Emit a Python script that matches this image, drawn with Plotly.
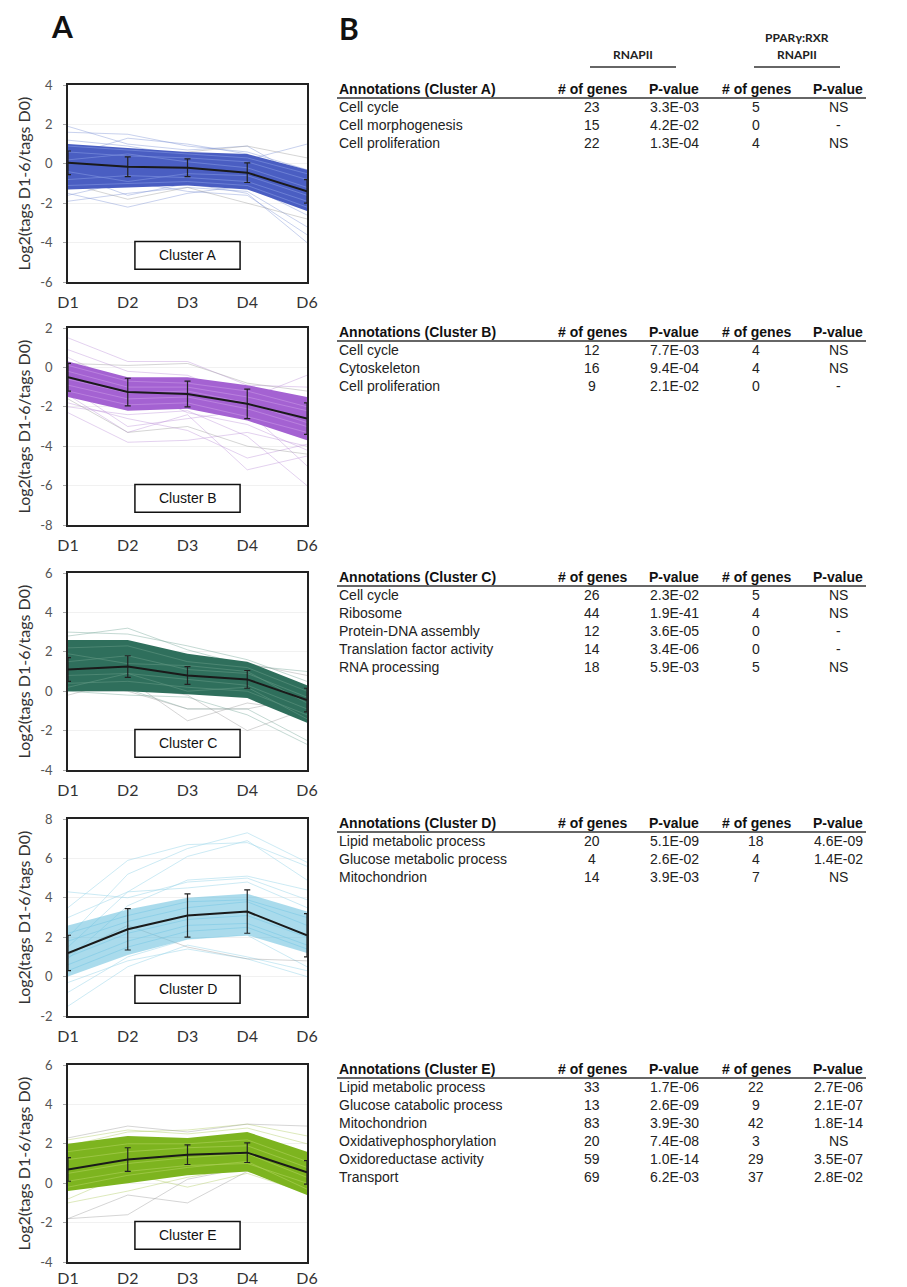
import plotly.graph_objects as go

# page is 907x1287; the html body has an 8px margin, so the figure is placed at (8, 8)
OFF = 8
FW, FH = 899, 1279

# ---------------- data ----------------
days = ["D1", "D2", "D3", "D4", "D6"]
xpos = [0, 1, 2, 3, 4]
cluster_names = ["Cluster A", "Cluster B", "Cluster C", "Cluster D", "Cluster E"]
y_min = [-6, -8, -4, -2, -4]
y_max = [4, 2, 6, 8, 6]

# Cluster A
mean_A = [0.05, -0.15, -0.2, -0.45, -1.4]
err_A = [0.6, 0.5, 0.45, 0.5, 0.6]
band_lo_A = [-1.3, -1.2, -1.1, -1.3, -2.4]
band_hi_A = [1.0, 0.8, 0.6, 0.5, -0.3]
inner_A = [[0.6, 0.4, 0.3, 0.1, -0.8], [-0.8, -0.6, -0.7, -0.9, -1.9], [0.2, 0.5, 0.1, -0.2, -1.2],
           [-0.4, -0.9, -0.5, -0.6, -1.6], [0.9, 0.7, 0.5, 0.3, -0.5], [-1.1, -1.0, -0.9, -1.1, -2.2]]
outer_A = [[1.9, 1.0, 0.7, 0.9, -0.8], [1.6, 1.5, 0.9, 0.6, -0.3], [-1.9, -1.5, -1.2, -1.4, -3.2],
           [-1.5, -2.2, -1.5, -1.1, -2.6], [1.2, 0.9, 0.4, 0.2, 1.0], [-0.5, -1.6, -1.0, -1.5, -4.0],
           [0.4, 1.3, 1.0, 0.5, -2.0], [-1.6, -0.9, -1.4, -1.6, -3.6]]
gray_A = [[0.8, 0.3, 0.6, 0.9, 0.3], [-1.0, -1.8, -1.2, -2.0, -2.8]]

# Cluster B
mean_B = [-0.5, -1.25, -1.35, -1.85, -2.6]
err_B = [0.7, 0.7, 0.65, 0.75, 0.8]
band_lo_B = [-1.5, -2.2, -2.1, -2.7, -3.7]
band_hi_B = [0.3, -0.5, -0.5, -0.9, -1.5]
inner_B = [[-0.2, -1.0, -1.0, -1.5, -2.2], [-1.2, -1.9, -1.8, -2.5, -3.3], [0.1, -0.7, -0.8, -1.2, -2.0],
           [-0.9, -1.6, -1.5, -2.1, -3.0], [-0.6, -1.3, -1.2, -1.8, -2.8]]
outer_B = [[1.5, 0.3, 0.3, -0.9, -1.0], [0.9, -0.2, -0.4, -1.6, -0.4], [-2.3, -3.8, -3.7, -3.3, -4.0],
           [-1.8, -2.6, -3.2, -4.6, -3.9], [-1.4, -3.3, -2.4, -5.2, -4.5], [-2.0, -2.4, -2.2, -3.5, -6.0],
           [0.5, -0.9, -2.3, -2.9, -4.2], [-1.0, -3.0, -2.6, -2.2, -5.0]]
gray_B = [[0.2, 0.1, 0.2, -0.8, -1.2], [-1.6, -3.3, -3.0, -4.0, -4.4]]

# Cluster C
mean_C = [1.1, 1.25, 0.8, 0.6, -0.45]
err_C = [0.6, 0.55, 0.45, 0.45, 0.6]
band_lo_C = [0.0, 0.0, -0.15, -0.35, -1.6]
band_hi_C = [2.6, 2.6, 1.9, 1.5, 0.3]
inner_C = [[2.2, 2.3, 1.5, 1.2, 0.0], [0.4, 0.5, 0.2, 0.0, -1.2], [1.5, 1.8, 1.1, 0.9, -0.3],
           [0.8, 0.9, 0.6, 0.3, -0.9], [1.9, 1.4, 1.3, 1.0, -0.6], [0.2, 0.9, 0.0, 0.2, -1.4]]
outer_C = [[3.0, 2.9, 2.3, 1.6, 0.5], [2.8, 3.2, 2.1, 1.3, 1.0], [0.0, -0.2, -0.3, -1.2, -2.7],
           [1.0, 0.1, -0.9, -0.9, -2.5]]
gray_C = [[0.5, 0.0, -0.9, -0.9, -0.3], [-0.2, 0.6, -1.5, -0.6, -1.0], [0.6, 0.3, -0.2, -2.0, -0.9],
          [2.4, 2.2, 1.0, 1.4, 0.8]]

# Cluster D
mean_D = [1.2, 2.4, 3.1, 3.3, 2.1]
err_D = [0.9, 1.05, 1.1, 1.1, 1.1]
band_lo_D = [0.0, 1.1, 1.9, 2.1, 1.2]
band_hi_D = [2.6, 3.4, 4.0, 4.2, 3.3]
inner_D = [[1.8, 2.8, 3.5, 3.8, 2.6], [0.6, 1.8, 2.6, 2.7, 1.6], [2.2, 3.1, 3.8, 3.9, 3.0],
           [1.0, 2.2, 2.9, 3.1, 2.0], [0.3, 1.5, 2.3, 2.5, 1.4]]
outer_D = [[4.3, 4.0, 4.8, 5.0, 3.9], [3.5, 5.9, 6.7, 6.8, 5.6], [2.0, 5.2, 6.5, 7.3, 5.8],
           [1.5, 4.3, 6.1, 6.9, 4.9], [-1.5, 0.5, 1.6, 1.0, 0.3], [-0.8, 1.0, 1.9, 2.1, 0.5],
           [0.9, 3.6, 4.9, 5.1, 4.4], [3.0, 4.3, 4.5, 4.8, 3.5], [-0.3, 0.8, 1.4, 0.9, 0.0]]
gray_D = [[1.1, 2.6, 1.5, 0.9, 0.8]]

# Cluster E
mean_E = [0.7, 1.2, 1.45, 1.55, 0.55]
err_E = [0.6, 0.6, 0.5, 0.5, 0.6]
band_lo_E = [-0.4, 0.0, 0.4, 0.6, -0.6]
band_hi_E = [2.0, 2.4, 2.3, 2.6, 1.6]
inner_E = [[1.6, 2.0, 2.0, 2.2, 1.1], [0.1, 0.6, 0.9, 1.0, 0.0], [1.2, 1.6, 1.8, 1.9, 0.8],
           [0.5, 1.0, 1.3, 1.5, 0.3], [-0.2, 0.4, 0.8, 1.1, -0.3]]
outer_E = [[2.2, 2.7, 2.5, 2.8, 2.0], [-1.0, -0.4, 0.3, 0.8, -0.2], [-0.8, 0.5, -0.2, 0.5, -0.5],
           [1.9, 2.6, 2.7, 3.0, 2.4]]
gray_E = [[2.3, 2.9, 2.6, 3.0, 2.9], [-1.8, -1.6, 0.2, 0.8, 0.5], [-1.8, -0.6, -1.0, 0.6, 0.1]]

# Tables
ann_A = ["Cell cycle", "Cell morphogenesis", "Cell proliferation"]
genes_A = [23, 15, 22]
pval_A = ["3.3E-03", "4.2E-02", "1.3E-04"]
genes2_A = [5, 0, 4]
pval2_A = ["NS", "-", "NS"]

ann_B = ["Cell cycle", "Cytoskeleton", "Cell proliferation"]
genes_B = [12, 16, 9]
pval_B = ["7.7E-03", "9.4E-04", "2.1E-02"]
genes2_B = [4, 4, 0]
pval2_B = ["NS", "NS", "-"]

ann_C = ["Cell cycle", "Ribosome", "Protein-DNA assembly", "Translation factor activity", "RNA processing"]
genes_C = [26, 44, 12, 14, 18]
pval_C = ["2.3E-02", "1.9E-41", "3.6E-05", "3.4E-06", "5.9E-03"]
genes2_C = [5, 4, 0, 0, 5]
pval2_C = ["NS", "NS", "-", "-", "NS"]

ann_D = ["Lipid metabolic process", "Glucose metabolic process", "Mitochondrion"]
genes_D = [20, 4, 14]
pval_D = ["5.1E-09", "2.6E-02", "3.9E-03"]
genes2_D = [18, 4, 7]
pval2_D = ["4.6E-09", "1.4E-02", "NS"]

ann_E = ["Lipid metabolic process", "Glucose catabolic process", "Mitochondrion",
         "Oxidativephosphorylation", "Oxidoreductase activity", "Transport"]
genes_E = [33, 13, 83, 20, 59, 69]
pval_E = ["1.7E-06", "2.6E-09", "3.9E-30", "7.4E-08", "1.0E-14", "6.2E-03"]
genes2_E = [22, 9, 42, 3, 29, 37]
pval2_E = ["2.7E-06", "2.1E-07", "1.8E-14", "NS", "3.5E-07", "2.8E-02"]

# ---------------- styling ----------------
panels = [
    dict(mean=mean_A, err=err_A, lo=band_lo_A, hi=band_hi_A, inner=inner_A, outer=outer_A, gray=gray_A,
         core="#4a5ec2", inner_c="rgba(130,150,225,0.75)", outer_c="rgba(120,140,210,0.45)",
         ann=ann_A, g=genes_A, p=pval_A, g2=genes2_A, p2=pval2_A, letter="A"),
    dict(mean=mean_B, err=err_B, lo=band_lo_B, hi=band_hi_B, inner=inner_B, outer=outer_B, gray=gray_B,
         core="#a462d2", inner_c="rgba(200,150,230,0.75)", outer_c="rgba(185,140,215,0.45)",
         ann=ann_B, g=genes_B, p=pval_B, g2=genes2_B, p2=pval2_B, letter="B"),
    dict(mean=mean_C, err=err_C, lo=band_lo_C, hi=band_hi_C, inner=inner_C, outer=outer_C, gray=gray_C,
         core="#2f6f5c", inner_c="rgba(95,150,130,0.75)", outer_c="rgba(110,160,145,0.45)",
         ann=ann_C, g=genes_C, p=pval_C, g2=genes2_C, p2=pval2_C, letter="C"),
    dict(mean=mean_D, err=err_D, lo=band_lo_D, hi=band_hi_D, inner=inner_D, outer=outer_D, gray=gray_D,
         core="rgba(100,190,220,0.55)", inner_c="rgba(120,200,228,0.7)", outer_c="rgba(160,215,235,0.6)",
         ann=ann_D, g=genes_D, p=pval_D, g2=genes2_D, p2=pval2_D, letter="D"),
    dict(mean=mean_E, err=err_E, lo=band_lo_E, hi=band_hi_E, inner=inner_E, outer=outer_E, gray=gray_E,
         core="#7db41f", inner_c="rgba(175,210,90,0.75)", outer_c="rgba(170,200,90,0.45)",
         ann=ann_E, g=genes_E, p=pval_E, g2=genes2_E, p2=pval2_E, letter="E"),
]

tops = [85, 328, 573, 819, 1065]
PH = 197
LEFT, RIGHT = 68, 307

def fx(px):
    return (px - OFF) / FW

def fy(py):
    return 1 - (py - OFF) / FH

fig = go.Figure()
annotations = []
shapes = []

SANS = "Liberation Sans, Arial, sans-serif"
CAL = "Lato, Open Sans, sans-serif"
TF = 14          # table font size
STEP = 18        # table row step

def text(t, x, y, size, family=SANS, color="#222", xanchor="center", angle=0):
    annotations.append(dict(text=t, xref="paper", yref="paper", x=fx(x), y=fy(y), showarrow=False,
                            xanchor=xanchor, yanchor="middle", textangle=angle,
                            font=dict(family=family, size=size, color=color)))

for i, pnl in enumerate(panels):
    k = i + 1
    xa = "x" if k == 1 else f"x{k}"
    ya = "y" if k == 1 else f"y{k}"
    for ln in pnl["outer"]:
        fig.add_trace(go.Scatter(x=xpos, y=ln, mode="lines", line=dict(color=pnl["outer_c"], width=0.9),
                                 xaxis=xa, yaxis=ya, showlegend=False, hoverinfo="skip"))
    for ln in pnl["gray"]:
        fig.add_trace(go.Scatter(x=xpos, y=ln, mode="lines", line=dict(color="rgba(150,150,150,0.45)", width=0.9),
                                 xaxis=xa, yaxis=ya, showlegend=False, hoverinfo="skip"))
    fig.add_trace(go.Scatter(x=xpos + xpos[::-1], y=pnl["hi"] + pnl["lo"][::-1], mode="lines",
                             fill="toself", fillcolor=pnl["core"], line=dict(width=0),
                             xaxis=xa, yaxis=ya, showlegend=False, hoverinfo="skip"))
    for ln in pnl["inner"]:
        fig.add_trace(go.Scatter(x=xpos, y=ln, mode="lines", line=dict(color=pnl["inner_c"], width=0.8),
                                 xaxis=xa, yaxis=ya, showlegend=False, hoverinfo="skip"))
    fig.add_trace(go.Scatter(x=xpos, y=pnl["mean"], mode="lines", line=dict(color="#1a1a1a", width=2),
                             error_y=dict(type="data", array=pnl["err"], color="#222222", thickness=1.2, width=3),
                             xaxis=xa, yaxis=ya, showlegend=False, hoverinfo="skip"))

    top = tops[i]
    fig.update_layout(**{
        ("xaxis" if k == 1 else f"xaxis{k}"): dict(
            domain=[fx(LEFT), fx(RIGHT)], anchor=ya, range=[0, 4], automargin=False,
            tickvals=xpos, ticktext=days, showline=True, mirror=True, linecolor="#222", linewidth=1.5,
            showgrid=False, zeroline=False, ticks="", ticklabelstandoff=(5 if k < 5 else 1),
            tickfont=dict(family=CAL, size=16, color="#333")),
        ("yaxis" if k == 1 else f"yaxis{k}"): dict(
            domain=[fy(top + PH), fy(top)], anchor=xa, range=[y_min[i], y_max[i]], automargin=False,
            tickvals=list(range(y_min[i], y_max[i] + 1, 2)),
            ticktext=[str(v) for v in range(y_min[i], y_max[i] + 1, 2)],
            showline=True, mirror=True, linecolor="#222", linewidth=1.5,
            showgrid=True, gridcolor="#f1f1f1", zeroline=False, ticks="outside", ticklen=3,
            tickcolor="#aaa", ticklabelstandoff=8, tickfont=dict(family=CAL, size=13, color="#555")),
    })

    shapes.append(dict(type="rect", xref=f"{xa} domain", yref=f"{ya} domain",
                       x0=0.28, x1=0.72, y0=0.065, y1=0.205,
                       line=dict(color="#111", width=1.5), fillcolor="white", layer="above"))
    annotations.append(dict(text=cluster_names[i], xref=f"{xa} domain", yref=f"{ya} domain",
                            x=0.5, y=0.135, showarrow=False, xanchor="center", yanchor="middle",
                            font=dict(family=SANS, size=14, color="#111")))
    text("Log2(tags D1-6/tags D0)", 23, top + PH / 2, 16, family=CAL, color="#333", angle=-90)

    # table
    hy = top + 4
    tl = 337
    cols = [592, 674, 756, 838]
    heads = [f"Annotations (Cluster {pnl['letter']})", "# of genes", "P-value", "# of genes", "P-value"]
    text(f"<b>{heads[0]}</b>", tl, hy, TF, color="#111", xanchor="left")
    for c, h in zip(cols, heads[1:]):
        text(f"<b>{h}</b>", c, hy, TF, color="#111")
    shapes.append(dict(type="line", xref="paper", yref="paper", x0=fx(tl), x1=fx(866),
                       y0=fy(hy + 9), y1=fy(hy + 9), line=dict(color="#333", width=1.6)))
    for r, name in enumerate(pnl["ann"]):
        ry = hy + STEP * (r + 1)
        vals = [str(pnl["g"][r]), pnl["p"][r], str(pnl["g2"][r]), pnl["p2"][r]]
        text(name, tl, ry, TF, xanchor="left")
        for c, v in zip(cols, vals):
            text(v, c, ry, TF)

# group headers
text("<b>RNAPII</b>", 633, 55, 12, family=CAL)
text("<b>PPARγ:RXR</b>", 797, 37, 12, family=CAL)
text("<b>RNAPII</b>", 797, 55, 12, family=CAL)
shapes.append(dict(type="line", xref="paper", yref="paper", x0=fx(590), x1=fx(676), y0=fy(67), y1=fy(67),
                   line=dict(color="#333", width=1.6)))
shapes.append(dict(type="line", xref="paper", yref="paper", x0=fx(754), x1=fx(840), y0=fy(67), y1=fy(67),
                   line=dict(color="#333", width=1.6)))

text("<b>A</b>", 62, 26, 30, family=CAL, color="#111")
text("<b>B</b>", 349, 28, 30, family=CAL, color="#111")

fig.update_layout(width=FW, height=FH, margin=dict(l=0, r=0, t=0, b=0, autoexpand=False),
                  paper_bgcolor="white", plot_bgcolor="white",
                  annotations=annotations, shapes=shapes, showlegend=False)

fig.write_html("out.html")
